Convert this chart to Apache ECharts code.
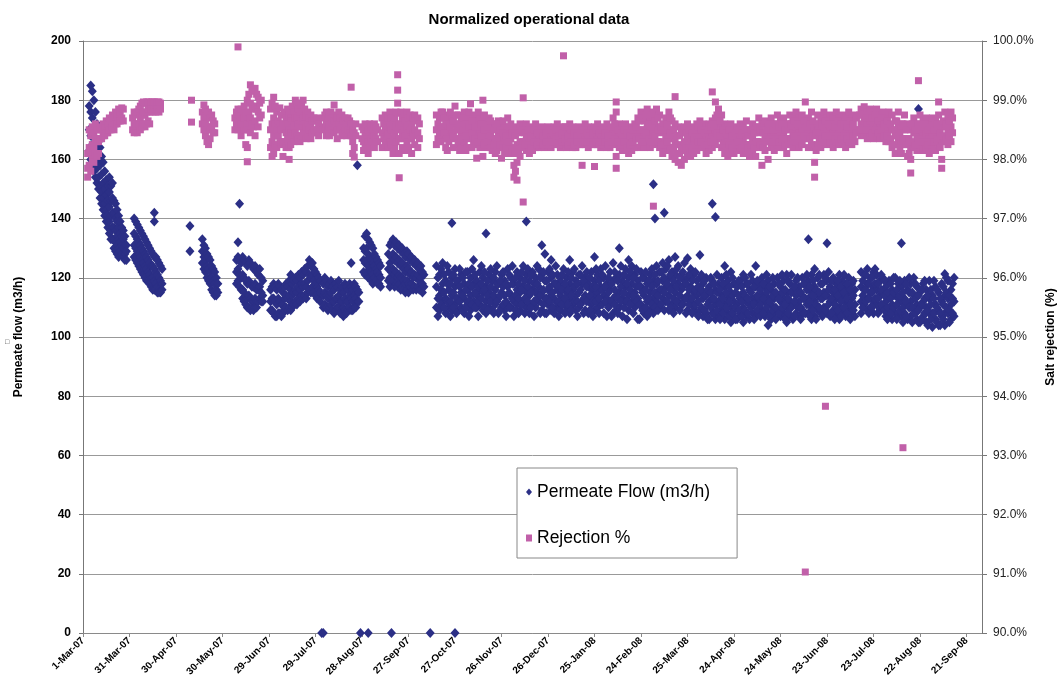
<!DOCTYPE html>
<html><head><meta charset="utf-8">
<script src="https://cdn.jsdelivr.net/npm/echarts@6/dist/echarts.min.js"></script>
<style>html,body{margin:0;padding:0;background:#fff}#c{width:1058px;height:689px}</style>
</head><body><div id="c"></div>
<script>
// x values are days counted from 1-Mar-07
const xTickLabels = ['1-Mar-07','31-Mar-07','30-Apr-07','30-May-07','29-Jun-07','29-Jul-07','28-Aug-07','27-Sep-07','27-Oct-07','26-Nov-07','26-Dec-07','25-Jan-08','24-Feb-08','25-Mar-08','24-Apr-08','24-May-08','23-Jun-08','23-Jul-08','22-Aug-08','21-Sep-08'];
const flowTicks = [0,20,40,60,80,100,120,140,160,180,200];
const rejTicks = [90,91,92,93,94,95,96,97,98,99,100];

// Permeate flow readings: [day, reading, reading, ...]
const flowRows = [
[4,178,170,163],[5,185,176,168,160],[6,183,174,165,158],[7,180,171,162,156],[8,176,167,159,154],[9,172,164,157,152],[10,166,160,154,150],[11,164,158,151,147],[12,161,155,149,145],[13,159,152,147,143],[14,156,150,145,141],[15,153,148,143,139],[16,151,146,141,137],[17,154,149,144,139,135],[18,151,146,141,136,133],[19,152,147,142,137,133],[20,146,142,137,133,130],[21,145,140,136,132,129],[22,143,139,134,131,128],[23,141,137,133,130,127],[24,139,135,132,129],[25,137,134,131,128],[26,136,133,130,127],[27,134,131,128,126],[28,131,129,126],
[33,140,135,131,127],[34,139,134,130,126],[35,138,133,129,125],[36,137,132,128,124],[37,136,131,127,123],[38,135,130,126,122],[39,134,129,125,121],[40,133,128,124,120],[41,132,127,123,119],[42,131,126,122,119],[43,130,125,121,118],[44,129,124,120,117],[45,128,124,120,116],[46,142,139,127,123,119,116],[47,127,122,118,116],[48,126,121,117,115],[49,125,120,116,115],[50,124,119,115],[51,123,118,116],
[69,137.5,129],
[77,133,129,125],[78,131,127,123],[79,130,126,122],[80,128,124,120],[81,127,123,119],[82,126,122,118],[83,124,120,116],[84,123,119,115],[85,122,118,114],[86,120,116,114],[87,118,115],
[99,126,122,118],[100,132,127,123,119],[101,145,126,121,117],[102,125,120,116],[103,127,121,116,113],[104,126,120,115,112],[105,125,119,114,111],[106,124,118,113,110],[107,126,119,114,110],[108,125,118,113,109],[109,124,117,112,110],[110,123,117,112,109],[111,124,118,113,110],[112,122,116,112,110],[113,121,116,112],[114,123,117,113],[115,120,115,112],[116,119,114,112],
[121,116,112,109],[122,117,113,109],[123,118,113,108],[124,117,112,107],[125,116,111,107],[126,118,113,108],[127,117,112,108],[128,116,111,107],[129,115,111,108],[130,117,113,109],[131,118,114,110],[132,117,113,109],[133,119,114,110],[134,121,116,112,109],[135,118,114,110],[136,119,115,111],[137,120,116,112],[138,119,115,111],[139,121,117,113],[140,120,116,112],[141,122,118,114],[142,121,117,113],[143,123,118,114],[144,122,117,113],[145,124,119,115],[146,126,121,116],[147,124,120,115],[148,125,121,117],[149,123,119,115],[150,122,118,114],[151,121,117,113],[152,120,116,113],[153,119,115,112],
[155,118,114,110],[156,120,115,111],[157,119,114,110],[158,117,113,109],[159,118,114,110],[160,119,115,111],[161,117,112,109],[162,116,112,108],[163,118,113,109],[164,117,113,110],[165,119,114,110],[166,116,112,108],[167,117,112,108],[168,115,110,107],[169,118,113,109],[170,117,112,108],[171,116,112,109],[172,118,114,110],[173,125,117,113,109],[174,116,112,109],[175,118,114,110],[176,117,113,110],[177,158,116,112],[178,115,112],
[181,130,126,122],[182,134,129,125,121],[183,135,130,126,122],[184,133,128,124,120],[185,132,127,123,120],[186,131,126,122,119],[187,130,125,121,118],[188,128,124,120],[189,127,123,119],[190,126,122,118],[191,125,121,118],[192,124,120,117],
[197,128,123,119],[198,131,125,120,117],[199,132,127,122,118],[200,133,128,123,119],[201,131,126,121,117],[202,132,127,122,118],[203,130,125,120,117],[204,131,126,121,118],[205,129,124,120,116],[206,130,125,120,117],[207,128,123,119,116],[208,127,122,118,115],[209,129,124,119,116],[210,128,123,118,115],[211,126,121,117],[212,127,122,118],[213,125,120,116],[214,126,121,117],[215,124,120,116],[216,125,121,117],[217,123,119,116],[218,124,120,116],[219,122,118,115],[220,121,117],
[154,0],[155,0],[179,0],[184,0],[199,0],[224,0],[240,0],
[228,124,117,110],[230,121,114,109],[232,125,118,112],[234,119,113,108],[236,122,116,110],[238,138.5,120,114,109],[240,123,117,111],[242,119,113,109],[244,121,115,110],[246,118,113,108],[248,122,116,111],[250,120,114,109],[252,126,118,112],[254,119,114,110],[256,122,116,111],[258,120,115,109],[260,135,117,112,108],[262,121,115,110],[264,119,113,109],[266,122,116,111],[268,118,113,108],[270,121,115,110],[272,119,114,109],[274,123,117,111],[276,120,114,110],[278,118,112,107],[280,122,116,111],[282,120,115,109],[284,124,117,112],[286,139,121,115,110],[288,119,114,108],[290,122,116,111],[292,120,115,110],[294,123,117,112],[296,131,121,115,109],[298,128,119,113,108],[300,122,116,111],[302,126,120,114,109],[304,118,113,108],[306,121,116,110],[308,119,114,109],[310,123,117,112],[312,120,115,110],[314,126,118,113,108],[316,122,116,111],[318,119,114,109],[320,121,115,110],[322,124,118,112],[324,120,114,109],[326,118,113,108],[328,122,116,111],[330,127,119,114,109],[332,121,115,110],[334,123,117,111],[336,120,114,108],[338,118,113,107],[340,122,116,111],[342,125,119,113,108],[344,120,114,109],[346,130,121,115,110],[348,119,113,107],[350,123,117,112],[352,126,120,114,109],[354,124,118,112],[356,121,115,110],[358,119,113,106],[360,122,117,111],[362,120,114,108],[364,118,112,107],[366,121,115,109],[368,151.6,119,113,108],[369,140],[370,124,118,112],[372,122,116,110],[374,125,119,113],[375,142],[376,123,117,112],[378,126,120,114,109],[380,122,117,111],[382,127,121,115,110],[384,124,118,112],[386,121,116,111],[388,125,119,113],[390,126.6,120,114,109],[392,123,117,112],[394,121,115,110],[396,119,114,108],[398,127.7,120,115,109],[400,118,113,107],[402,120,114,108],[404,117,112,106],[406,145,119,113,108],[408,140.5,116,111,106],[410,118,112,107],[412,120,114,109],[414,124,117,111,106],[416,119,113,108],[418,122,115,110,105],[420,118,112,107],[422,117,111,106],[424,119,113,108],[426,121,115,110,105],[428,118,112,107],[430,116,111,106],[432,119,113,108],[434,124,117,112,107],[436,118,113,108],[438,120,114,109],[440,117,112,107],[442,119,113,108,104],[444,116,111,106],[446,118,113,108],[448,120,114,109],[450,117,112,107],[452,119,113,108],[454,121,115,110,105],[456,118,112,107],[458,116,111,106],[460,119,114,108],[462,117,112,107],[464,120,114,109],[466,118,113,108],[468,133,119,113,108],[470,121,115,110,106],[472,123,117,112,107],[474,120,114,109],[476,118,113,108],[478,121,115,110],[480,131.7,119,114,108],[482,117,112,107],[484,120,115,109],[486,118,113,108],[488,121,116,110,106],[490,119,114,109],[492,117,112,107],[494,120,115,110],[496,118,113,108],[498,116,111,107],[502,122,117,112,108],[504,121,116,111],[506,123,118,113,109],[508,120,115,110],[510,122,117,112,108],[512,121,116,111],[514,119,114,109],[516,120,115,110],[518,117,112,107],[520,119,114,109],[522,116,111,106],[524,120,114,108],[526,118,113,108],[528,131.7,117,112,107],[530,119,113,108],[532,116,111,106],[534,118,112,107],[536,120,114,109],[538,117,111,106],[539,177],[540,115,110,105],[542,118,112,107],[544,116,110,105],[546,119,113,108],[548,114,108,103.4],[550,117,111,106],[552,115,109,104],[554,118,112,107],[556,121.3,114,108,104],[558,119,113,108],[560,116,111,106],[562,120,112,107],
[229,120,113,107],[231,123,116,111],[233,121,115,110],[235,124,118,112],[237,118,112,107],[239,121,115,110],[241,119,113,108],[243,123,117,112],[245,120,114,109],[247,122,116,110],[249,118,112,107],[251,123,117,111],[253,121,115,110],[255,117,112,107],[257,124,118,113],[259,122,116,110],[261,119,114,109],[263,123,117,112],[265,120,114,108],[267,124,118,112],[269,119,114,109],[271,122,117,111],[273,118,112,107],[275,121,115,110],[277,124,118,113],[279,120,114,109],[281,118,113,108],[283,122,116,111],[285,119,113,108],[287,123,117,112],[289,121,115,110],[291,118,112,107],[293,124,118,113],[295,120,114,108],[297,122,116,111],[299,119,113,108],[301,123,117,112],[303,121,115,110],[305,124,118,112],[307,117,112,107],[309,121,116,111],[311,118,113,108],[313,122,116,111],[315,120,114,109],[317,123,117,112],[319,118,112,107],[321,121,116,111],[323,119,113,108],[325,122,117,112],[327,120,114,109],[329,117,112,107],[331,123,117,112],[333,119,113,108],[335,121,116,111],[337,124,117,112],[339,120,115,110],[341,118,112,107],[343,122,116,111],[345,119,113,108],[347,124,117,112],[349,121,115,110],[351,118,112,106],[353,122,116,111],[355,120,114,108],[357,123,117,112],[359,117,111,106],[361,120,115,109],[363,122,116,110],[365,119,113,108],[367,123,117,111],[369,121,115,110],[371,119,114,109],[373,122,116,111],[375,120,115,109],[377,124,118,112],[379,121,116,110],[381,119,113,108],[383,123,117,112],[385,120,114,109],[387,122,117,111],[389,118,113,108],[391,121,116,111],[393,119,113,108],[395,122,116,111],[397,117,112,107],[399,121,116,110],[401,119,114,109],[403,116,111,106],[405,120,115,110],[407,118,113,108],[409,121,115,109],[411,116,111,106],[413,118,113,108],[415,121,115,110],[417,117,112,107],[419,120,114,108],[421,115,110,106],[423,119,114,109],[425,117,112,107],[427,120,114,109],[429,118,113,108],[431,121,115,110],[433,117,111,106],[435,119,114,109],[437,116,111,107],[439,118,113,108],[441,121,115,110],[443,117,112,107],[445,120,114,109],[447,115,110,106],[449,118,113,108],[451,121,115,110],[453,116,111,106],[455,119,113,108],[457,121,115,110],[459,117,112,107],[461,120,115,110],[463,115,110,106],[465,118,113,108],[467,121,116,111],[469,117,112,107],[471,119,114,109],[473,116,111,106],[475,121,115,110],[477,118,113,107],[479,120,114,109],[481,122,116,111],[483,119,113,108],[485,116,111,106],[487,119,114,109],[489,117,112,107],[491,121,115,110],[493,118,113,108],[495,116,111,106],[497,119,114,109],[503,119,114,110],[505,121,116,112],[507,118,113,108],[509,120,115,110],[511,123,118,113],[513,118,113,108],[515,121,116,111],[517,119,114,109],[519,115,110,106],[521,118,113,108],[523,120,115,110],[525,116,111,106],[527,119,114,109],[529,115,110,105],[531,118,112,107],[533,120,115,110],[535,115,110,105],[537,118,113,108],[539,114,109,105],[541,116,111,106],[543,119,113,108],[545,114,109,104],[547,116,111,106],[549,119,113,108],[551,116,110,105],[553,113,108,104],[555,117,111,106],[557,120,115,110],[559,114,109,105],[561,118,113,108]
];

// Salt rejection readings (%): [day, reading, reading, ...]
const rejRows = [
[3,98.1,97.85,97.7],[4,98.5,98.2,97.9],[5,98.4,98.1,97.8],[6,98.55,98.25,98.0],[7,98.45,98.2,97.95],[8,98.6,98.35,98.1],[9,98.5,98.3,98.05],[10,98.5,98.3,98.1],[11,98.55,98.35],[12,98.5,98.35],[13,98.6,98.4],[14,98.55,98.4],[15,98.65,98.45],[16,98.6,98.45],[17,98.7,98.5],[18,98.65,98.5],[19,98.75,98.55],[20,98.7,98.5],[21,98.8,98.6],[22,98.75,98.6],[23,98.85,98.65],[24,98.8,98.65],[25,98.87,98.7],[26,98.85,98.65],
[32,98.7,98.5],[33,98.8,98.6,98.45],[34,98.75,98.55],[35,98.8,98.6,98.45],[36,98.85,98.6],[37,98.9,98.7,98.5],[38,98.95,98.75,98.55],[39,98.97,98.8,98.6],[40,98.95,98.75,98.55],[41,98.97,98.8,98.6],[42,98.97,98.85,98.65],[43,98.95,98.8,98.6],[44,98.97,98.85],[45,98.97,98.8],[46,98.97,98.85],[47,98.95,98.8],[48,98.97,98.85],[49,98.97,98.8],[50,98.95,98.85],
[70,99.0,98.63],
[77,98.8,98.6],[78,98.92,98.7,98.5],[79,98.85,98.6,98.4],[80,98.75,98.5,98.3],[81,98.8,98.55,98.25],[82,98.7,98.5,98.35],[83,98.75,98.55],[84,98.65,98.45],[85,98.6,98.45],
[98,98.7,98.5],[99,98.8,98.6],[100,99.9,98.85,98.65,98.5],[101,98.75,98.55],[102,98.85,98.6,98.4],[103,98.8,98.6],[104,98.9,98.7,98.5],[105,98.75,98.5,98.25],[106,99.0,98.6,98.2,97.96],[107,99.1,98.8,98.5],[108,99.26,98.95,98.7,98.45],[109,99.2,98.9,98.6],[110,99.15,98.85,98.55],[111,99.2,98.9,98.65,98.4],[112,99.1,98.85],[113,99.05,98.8,98.55],[114,98.95,98.7],[115,99.0,98.75],
[121,98.85,98.5,98.2],[122,98.95,98.6,98.3,98.05],[123,99.05,98.7,98.4,98.1],[124,98.9,98.6,98.25],[125,98.8,98.5,98.2],[126,98.65,98.4],[127,98.87,98.6,98.3],[128,98.75,98.5,98.25],[129,98.6,98.3,98.05],[130,98.8,98.55,98.3],[131,98.7,98.45,98.2],[132,98.85,98.6,98.35],[133,98.75,98.5,98.2,98.0],[134,98.7,98.45,98.25],[135,98.9,98.65,98.4],[136,98.8,98.55,98.3],[137,99.0,98.7,98.45],[138,98.95,98.7,98.4],[139,98.85,98.6,98.35],[140,98.8,98.55,98.3],[141,98.95,98.65,98.4],[142,99.0,98.7,98.45],[143,98.85,98.6],[144,98.75,98.55,98.35],[145,98.8,98.6,98.4],[146,98.7,98.5],[147,98.75,98.55,98.35],[148,98.65,98.45],[149,98.7,98.5],[150,98.65,98.45],[151,98.7,98.5],[152,98.6,98.4],
[155,98.7,98.5],[156,98.75,98.55],[157,98.8,98.6,98.4],[158,98.7,98.5],[159,98.75,98.55,98.4],[160,98.8,98.6],[161,98.7,98.5],[162,98.92,98.65,98.45],[163,98.75,98.55],[164,98.7,98.5,98.35],[165,98.8,98.6],[166,98.7,98.5],[167,98.75,98.55,98.4],[168,98.65,98.45],[169,98.7,98.5],[170,98.6,98.4],[171,98.7,98.5],[172,98.65,98.45],[173,99.22,98.6,98.4],[174,98.5,98.3,98.1],[175,98.45,98.2,98.04],[176,98.6,98.4],
[180,98.55,98.35],[181,98.5,98.3,98.15],[182,98.6,98.4,98.2],[183,98.55,98.35],[184,98.5,98.3,98.1],[185,98.6,98.4,98.2],[186,98.55,98.35],[187,98.5,98.3],[188,98.6,98.4,98.2],[189,98.55,98.35],[190,98.5,98.3],
[193,98.7,98.45,98.2],[194,98.6,98.35],[195,98.75,98.5,98.25],[196,98.65,98.4],[197,98.7,98.45,98.2],[198,98.8,98.55,98.3],[199,98.7,98.5,98.25],[200,98.6,98.35,98.1],[201,98.7,98.45,98.2],[202,98.8,98.55,98.3],[203,99.43,99.17,98.95,98.78,98.5],[204,97.69,98.6,98.35,98.1],[205,98.8,98.6,98.35],[206,98.7,98.45,98.2],[207,98.75,98.5],[208,98.65,98.4,98.15],[209,98.8,98.55,98.3],[210,98.7,98.45,98.2],[211,98.75,98.5],[212,98.6,98.35,98.1],[213,98.7,98.45],[214,98.75,98.5,98.25],[215,98.65,98.4],[216,98.7,98.45,98.2],[217,98.6,98.35],
[228,98.75,98.5,98.25],[230,98.7,98.45,98.3],[232,98.8,98.55,98.35],[234,98.65,98.4,98.2],[236,98.75,98.5,98.3],[238,98.7,98.45],[240,98.9,98.6,98.35],[242,98.75,98.5,98.25],[244,98.65,98.45,98.2],[246,98.8,98.55,98.3],[248,98.7,98.45,98.2],[250,98.94,98.6,98.35],[252,98.75,98.5,98.25],[254,98.65,98.4,98.02],[256,98.7,98.45,98.2],[258,99.0,98.6,98.35,98.05],[260,98.65,98.4,98.2],[262,98.7,98.45,98.25],[264,98.6,98.35,98.15],[266,98.55,98.3,98.1],[268,98.65,98.4,98.2],[270,98.6,98.35,98.02],[272,98.55,98.3,98.1],[274,98.7,98.45,98.2],[276,98.6,98.35,98.15],[278,98.5,98.2,97.9,97.7],[280,98.55,98.25,97.95,97.65],[282,98.6,98.3,98.05],[284,99.04,98.55,98.3,97.28],[286,98.6,98.35,98.15],[288,98.5,98.3,98.1],[290,98.55,98.35,98.15],[292,98.6,98.4,98.2],[294,98.5,98.35,98.2],[296,98.55,98.4,98.25],[298,98.5,98.3,98.2],[300,98.55,98.4,98.25],[302,98.5,98.35,98.2],[304,98.55,98.4,98.25],[306,98.6,98.45,98.3],[308,98.5,98.35,98.2],[310,99.75,98.55,98.4,98.25],[312,98.5,98.35,98.2],[314,98.6,98.45,98.3],[316,98.55,98.35,98.2],[318,98.5,98.3,98.2],[320,98.55,98.4,98.25],[322,98.5,98.35,97.9],[324,98.6,98.4,98.25],[326,98.55,98.35,98.2],[328,98.5,98.4,98.25],[330,98.55,98.35,97.88],[332,98.6,98.4,98.25],[334,98.5,98.35,98.2],[336,98.55,98.4,98.25],[338,98.6,98.4,98.2],[340,98.5,98.35,98.2],[342,98.7,98.45,98.25],[344,98.97,98.8,98.55,98.3,98.05,97.85],[346,98.6,98.4,98.2],[348,98.55,98.35,98.15],[350,98.6,98.4,98.2],[352,98.5,98.3,98.1],[354,98.55,98.35,98.15],[356,98.6,98.4,98.2],[358,98.7,98.45,98.2],[360,98.8,98.5,98.25],[362,98.65,98.4,98.2],[364,98.85,98.55,98.3],[366,98.7,98.45,98.2],[368,98.8,98.5,98.25,97.21],[370,98.85,98.55,98.3],[372,98.75,98.45,98.2],[374,98.6,98.3,98.1],[376,98.7,98.4,98.15],[378,98.8,98.5,98.2],[380,98.65,98.35,98.05],[382,99.06,98.6,98.3,98.0],[384,98.55,98.25,97.95],[386,98.5,98.2,97.9],[388,98.55,98.3,98.0],[390,98.6,98.35,98.1],[392,98.5,98.3,98.05],[394,98.55,98.35,98.1],[396,98.6,98.4,98.15],[398,98.65,98.45,98.2],[400,98.6,98.4,98.2],[402,98.55,98.35,98.1],[404,98.6,98.4,98.15],[406,99.14,98.65,98.45,98.2],[408,98.97,98.7,98.5,98.25],[410,98.85,98.6,98.35],[412,98.75,98.5,98.2],[414,98.6,98.35,98.1],[416,98.55,98.3,98.05],[418,98.6,98.4,98.15],[420,98.5,98.3,98.1],[422,98.55,98.35,98.15],[424,98.6,98.4,98.2],[426,98.55,98.3,98.1],[428,98.65,98.4,98.15],[430,98.5,98.25,98.05],[432,98.6,98.35,98.1],[434,98.55,98.3,98.05],[436,98.7,98.45,98.2],[438,98.6,98.3,97.9],[440,98.65,98.4,98.15],[442,98.55,98.3,98.0],[444,98.7,98.45,98.2],[446,98.6,98.4,98.15],[448,98.75,98.5,98.25],[450,98.65,98.4,98.2],[452,98.7,98.45,98.2],[454,98.6,98.35,98.1],[456,98.75,98.5,98.25],[458,98.7,98.45,98.2],[460,98.8,98.55,98.3],[462,98.7,98.45,98.2],[464,98.75,98.5,98.25],[466,98.97,98.6,98.4,91.03],[468,98.7,98.45,98.2],[470,98.8,98.5,98.25],[472,98.6,98.2,97.95,97.7],[474,98.75,98.5,98.25],[476,98.7,98.45,98.2],[478,98.8,98.55,98.3],[479,93.83],[480,98.7,98.5,98.25],[482,98.75,98.55,98.3],[484,98.7,98.45,98.2],[486,98.8,98.55,98.3],[488,98.7,98.5,98.25],[490,98.75,98.5,98.3],[492,98.7,98.45,98.2],[494,98.8,98.55,98.3],[496,98.7,98.5,98.25],[498,98.75,98.5,98.3],[502,98.85,98.6,98.4],[504,98.89,98.65,98.45],[506,98.8,98.6,98.35],[508,98.85,98.65,98.4],[510,98.8,98.55,98.35],[512,98.85,98.6,98.4],[514,98.75,98.55,98.35],[516,98.8,98.6,98.4],[518,98.7,98.5,98.3],[520,98.8,98.55,98.3],[522,98.75,98.5,98.2],[524,98.65,98.4,98.1],[526,98.8,98.55,98.3],[528,98.6,98.35,98.1],[529,93.13],[530,98.75,98.5,98.25],[532,98.6,98.35,98.05],[534,98.5,98.2,98.0,97.77],[536,98.7,98.45,98.2],[538,98.6,98.4,98.15],[539,99.33],[540,98.75,98.5,98.25],[542,98.65,98.4,98.15],[544,98.7,98.45,98.2],[546,98.6,98.35,98.1],[548,98.7,98.45,98.2],[550,98.65,98.4,98.15],[552,98.97,98.75,98.5,98.25],[554,98.6,98.3,98.0,97.85],[556,98.8,98.55,98.3],[558,98.75,98.5,98.25],[560,98.8,98.55,98.3],
[229,98.6,98.35],[231,98.8,98.55,98.3],[233,98.7,98.45],[235,98.6,98.35,98.15],[237,98.8,98.55],[239,98.65,98.4,98.2],[241,98.75,98.5],[243,98.6,98.35,98.15],[245,98.7,98.5],[247,98.6,98.4,98.15],[249,98.8,98.55],[251,98.65,98.45,98.2],[253,98.55,98.35],[255,98.8,98.55,98.3],[257,98.6,98.4],[259,98.75,98.5,98.25],[261,98.55,98.3],[263,98.65,98.4,98.2],[265,98.5,98.25],[267,98.6,98.35,98.15],[269,98.5,98.25],[271,98.65,98.45,98.2],[273,98.4,98.2],[275,98.55,98.3,98.1],[277,98.45,98.15],[279,98.4,98.1,97.8],[281,98.45,98.15],[283,98.5,98.2],[285,98.45,98.25],[287,98.5,98.25],[289,98.4,98.2],[291,98.5,98.3],[293,98.45,98.25],[295,98.45,98.3],[297,98.4,98.25],[299,98.45,98.3],[301,98.5,98.25],[303,98.45,98.3],[305,98.5,98.35],[307,98.4,98.25],[309,98.45,98.3],[311,98.55,98.35],[313,98.4,98.25],[315,98.5,98.3],[317,98.45,98.25],[319,98.4,98.3],[321,98.45,98.25],[323,98.5,98.3],[325,98.45,98.3],[327,98.4,98.3],[329,98.45,98.25],[331,98.5,98.3],[333,98.45,98.25],[335,98.5,98.3],[337,98.45,98.3],[339,98.4,98.25],[341,98.55,98.3],[343,98.6,98.35],[345,98.5,98.3],[347,98.45,98.25],[349,98.5,98.3],[351,98.45,98.2],[353,98.4,98.25],[355,98.5,98.3],[357,98.55,98.35],[359,98.65,98.35],[361,98.7,98.5,98.3],[363,98.75,98.45],[365,98.6,98.35],[367,98.75,98.55,98.3],[369,98.65,98.4],[371,98.7,98.5,98.3],[373,98.55,98.25],[375,98.5,98.25],[377,98.6,98.3],[379,98.7,98.45,98.15],[381,98.5,98.2],[383,98.4,98.1],[385,98.4,98.1],[387,98.45,98.15],[389,98.45,98.2],[391,98.5,98.2],[393,98.45,98.15],[395,98.5,98.25],[397,98.55,98.3],[399,98.5,98.3],[401,98.45,98.25],[403,98.5,98.25],[405,98.55,98.3],[407,98.6,98.35],[409,98.75,98.45],[411,98.65,98.4],[413,98.5,98.25],[415,98.45,98.2],[417,98.5,98.25],[419,98.4,98.2],[421,98.45,98.25],[423,98.5,98.3],[425,98.45,98.2],[427,98.5,98.25],[429,98.4,98.2],[431,98.5,98.25],[433,98.45,98.2],[435,98.55,98.3],[437,98.5,98.25],[439,98.45,98.2],[441,98.5,98.3],[443,98.6,98.35],[445,98.5,98.3],[447,98.6,98.35],[449,98.55,98.3],[451,98.6,98.35],[453,98.5,98.25],[455,98.6,98.35],[457,98.6,98.35],[459,98.65,98.4],[461,98.6,98.4],[463,98.6,98.35],[465,98.65,98.4],[467,98.55,98.35],[469,98.6,98.35],[471,98.65,98.4],[473,98.45,98.15],[475,98.6,98.35],[477,98.6,98.35],[479,98.65,98.4],[481,98.6,98.4],[483,98.6,98.4],[485,98.55,98.35],[487,98.65,98.4],[489,98.6,98.35],[491,98.6,98.4],[493,98.55,98.35],[495,98.65,98.4],[497,98.6,98.4],[499,98.7,98.45],[501,98.75,98.5],[503,98.75,98.5],[505,98.7,98.5],[507,98.75,98.5],[509,98.7,98.45],[511,98.75,98.5],[513,98.65,98.45],[515,98.7,98.5],[517,98.6,98.4],[519,98.65,98.4],[521,98.6,98.35],[523,98.5,98.25],[525,98.65,98.4],[527,98.45,98.2],[529,98.6,98.35],[531,98.5,98.25],[533,98.35,98.1],[535,98.6,98.3],[537,98.5,98.25],[539,98.6,98.35],[541,98.55,98.3],[543,98.6,98.3],[545,98.5,98.25],[547,98.55,98.3],[549,98.5,98.3],[551,98.6,98.35],[553,98.45,98.2],[555,98.65,98.4],[557,98.6,98.35],[559,98.65,98.4],[561,98.7,98.45]
];

const toPoints = rows => rows.flatMap(r => r.slice(1).map(v => [r[0], v]));
const flowData = toPoints(flowRows);
const rejData = toPoints(rejRows);

const FONT = '"Liberation Sans", Arial, sans-serif';
const chart = echarts.init(document.getElementById('c'), null, {renderer: 'canvas'});
chart.setOption({
  animation: false,
  backgroundColor: '#fff',
  title: {
    text: 'Normalized operational data', left: 'center', top: 7,
    textStyle: {fontFamily: FONT, fontSize: 15, fontWeight: 'bold', color: '#000'}
  },
  legend: {
    orient: 'vertical', left: 517, top: 468,
    padding: [15, 27, 11, 9], itemGap: 28,
    itemWidth: 6, itemHeight: 7,
    backgroundColor: '#fff', borderColor: '#888', borderWidth: 1,
    textStyle: {fontFamily: FONT, fontSize: 17.5, color: '#000'},
    data: [{name: 'Permeate Flow (m3/h)', icon: 'diamond'}, {name: 'Rejection %', icon: 'rect'}]
  },
  grid: {left: 83, right: 76, top: 41, bottom: 56, containLabel: false, outerBoundsMode: 'none'},
  xAxis: {
    type: 'value', min: 0, max: 580, interval: 30,
    axisLine: {show: true, lineStyle: {color: '#8a8a8a'}},
    axisTick: {show: true, length: 4, lineStyle: {color: '#8a8a8a'}},
    splitLine: {show: false},
    axisLabel: {
      rotate: 45, margin: 6, fontFamily: FONT, fontSize: 10, fontWeight: 'bold', color: '#000',
      showMaxLabel: false,
      formatter: v => (v % 30 === 0 && xTickLabels[v / 30]) ? xTickLabels[v / 30] : ''
    }
  },
  yAxis: [{
    type: 'value', min: flowTicks[0], max: flowTicks[flowTicks.length - 1], interval: 20,
    name: 'Permeate flow (m3/h)', nameLocation: 'middle', nameGap: 58, nameRotate: 90,
    nameTextStyle: {fontFamily: FONT, fontSize: 12, fontWeight: 'bold', color: '#000'},
    axisLine: {show: true, lineStyle: {color: '#777'}},
    axisTick: {show: true, length: 4, lineStyle: {color: '#777'}},
    splitLine: {show: true, lineStyle: {color: '#999', width: 1}},
    axisLabel: {margin: 12, fontFamily: FONT, fontSize: 12, fontWeight: 'bold', color: '#000'}
  }, {
    type: 'value', position: 'right', min: rejTicks[0], max: rejTicks[rejTicks.length - 1], interval: 1,
    name: 'Salt rejection (%)', nameLocation: 'middle', nameGap: 62, nameRotate: 90,
    nameTextStyle: {fontFamily: FONT, fontSize: 12, fontWeight: 'bold', color: '#000'},
    axisLine: {show: true, lineStyle: {color: '#777'}},
    axisTick: {show: true, length: 5, lineStyle: {color: '#777'}},
    splitLine: {show: false},
    axisLabel: {margin: 11, fontFamily: FONT, fontSize: 12, color: '#222', formatter: v => v.toFixed(1) + '%'}
  }],
  graphic: [{type: 'text', left: 5, top: 339, style: {text: '□', fontSize: 7, fill: '#333'}}],
  series: [{
    name: 'Permeate Flow (m3/h)', type: 'scatter', yAxisIndex: 0,
    symbol: 'diamond', symbolSize: [9, 10],
    itemStyle: {color: '#2b2f86', opacity: 1},
    data: flowData
  }, {
    name: 'Rejection %', type: 'scatter', yAxisIndex: 1,
    symbol: 'rect', symbolSize: 7,
    itemStyle: {color: '#c160a9', opacity: 1},
    data: rejData
  }]
});
</script></body></html>
